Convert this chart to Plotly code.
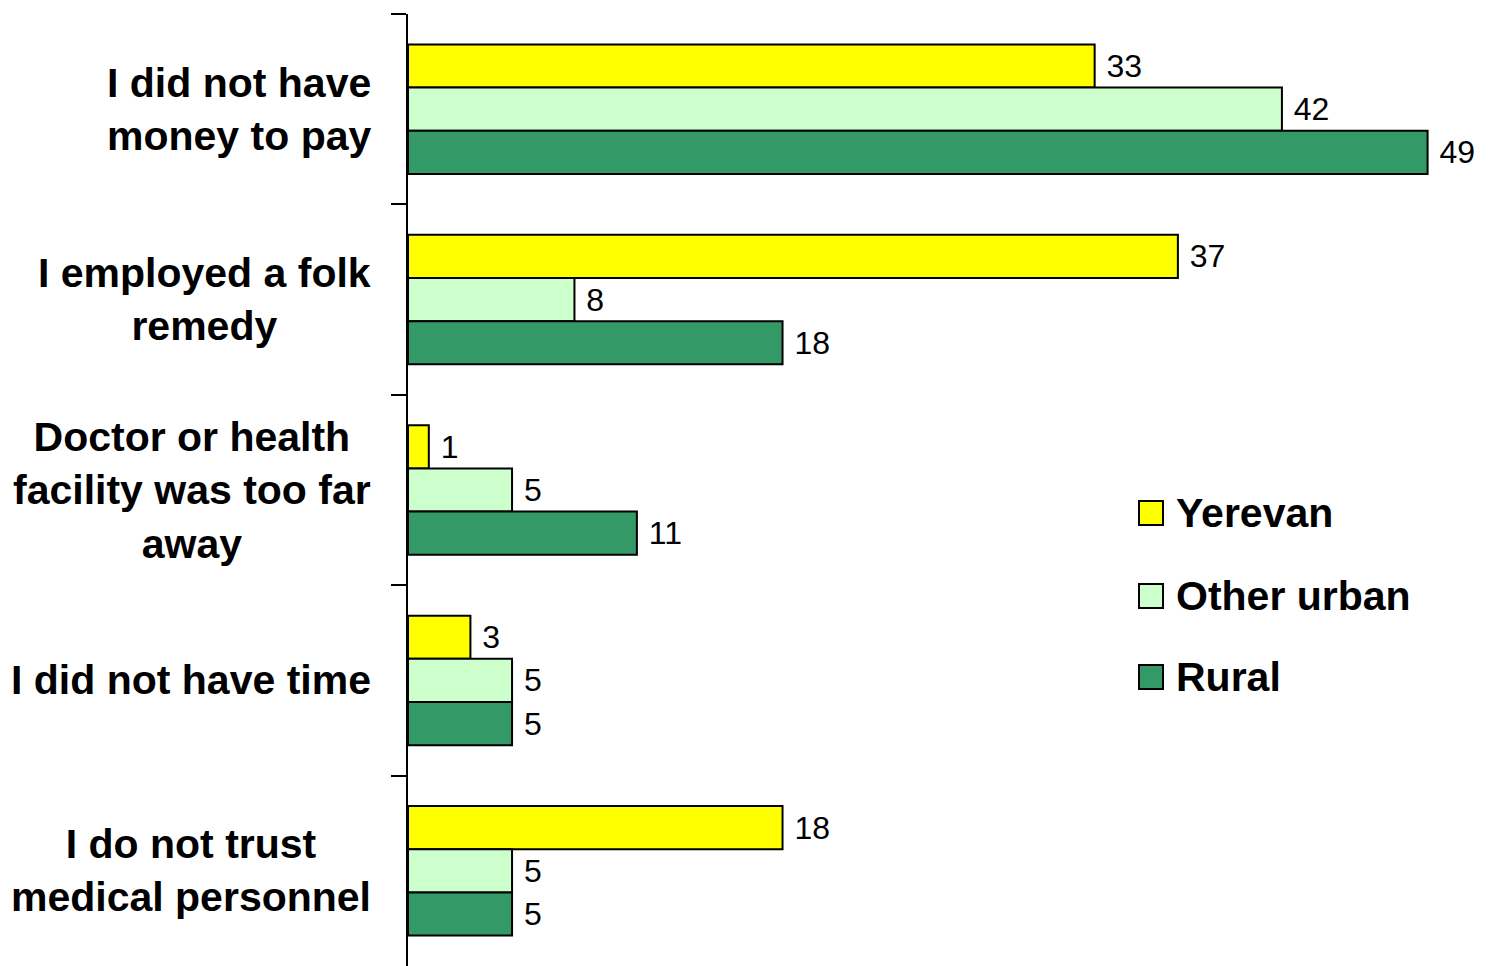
import plotly.graph_objects as go

# Reasons for not seeking medical care, % by settlement type
categories = [
    "I did not have<br>money to pay",
    "I employed a folk<br>remedy",
    "Doctor or health<br>facility was too far<br>away",
    "I did not have time",
    "I do not trust<br>medical personnel",
]
series_names = ["Yerevan", "Other urban", "Rural"]
yerevan = [33, 37, 1, 3, 18]
other_urban = [42, 8, 5, 5, 5]
rural = [49, 18, 11, 5, 5]
series_values = [yerevan, other_urban, rural]
series_colors = ["#FFFF00", "#CCFFCC", "#339966"]

FONT = "Liberation Sans, Arial, sans-serif"

fig = go.Figure()
for name, vals, color in zip(series_names, series_values, series_colors):
    fig.add_trace(go.Bar(
        y=categories,
        x=vals,
        name=name,
        orientation="h",
        marker=dict(color=color, line=dict(color="black", width=2)),
        text=vals,
        texttemplate="\u00a0%{x}",
        textposition="outside",
        constraintext="none",
        cliponaxis=False,
        textfont=dict(family=FONT, size=32, color="black"),
        showlegend=False,
    ))

# Category labels: centred lines, block right-aligned next to the axis
annotations = []
for cat in categories:
    annotations.append(dict(
        x=0, xref="paper", y=cat, yref="y",
        text=cat, showarrow=False,
        xanchor="right", yanchor="middle", align="center",
        xshift=-35,
        font=dict(family=FONT, size=41, color="black", weight="bold"),
    ))

# Legend drawn as swatches with bold labels
shapes = []
legend_y = [513, 596, 677]
H = 966
W = 1490
for name, color, ypix in zip(series_names, series_colors, legend_y):
    shapes.append(dict(
        type="rect", xref="paper", yref="paper",
        x0=(1139 - 408) / (W - 408), x1=(1163 - 408) / (W - 408),
        y0=(H - (ypix + 12)) / (H - 14), y1=(H - (ypix - 12)) / (H - 14),
        line=dict(color="black", width=2), fillcolor=color,
    ))
    annotations.append(dict(
        x=(1174 - 408) / (W - 408), xref="paper",
        y=(H - ypix) / (H - 14), yref="paper",
        text=name, showarrow=False, xanchor="left", yanchor="middle",
        font=dict(family=FONT, size=41, color="black", weight="bold"),
    ))

fig.update_layout(
    width=W, height=H,
    margin=dict(l=408, r=0, t=14, b=0),
    paper_bgcolor="white", plot_bgcolor="white",
    barmode="group", bargap=0.32, bargroupgap=0,
    xaxis=dict(range=[0, 52], visible=False, fixedrange=True),
    yaxis=dict(
        autorange="reversed",
        showticklabels=False,
        showline=True, linecolor="black", linewidth=2,
        ticks="outside", tickson="boundaries", ticklen=15,
        tickwidth=2, tickcolor="black",
        showgrid=False, zeroline=False,
    ),
    annotations=annotations,
    shapes=shapes,
    showlegend=False,
)

fig.write_html("out.html")
